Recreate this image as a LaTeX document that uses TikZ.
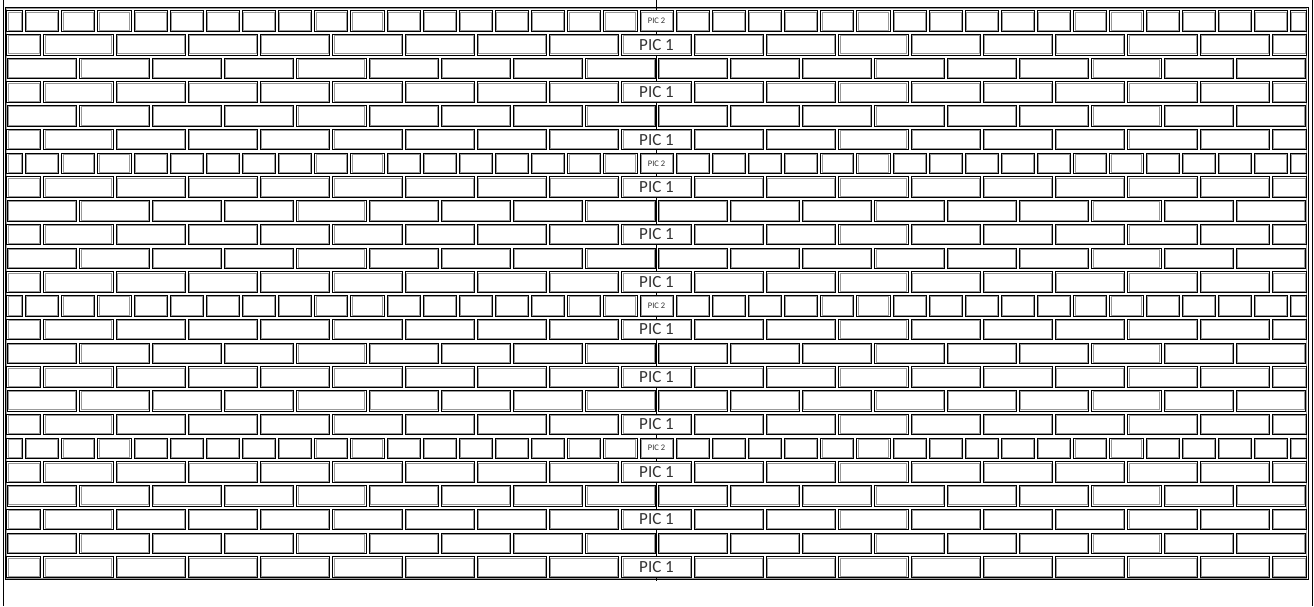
\documentclass[tikz,border=0pt]{standalone}
\usepackage{fontspec}
\newfontfamily\picfont{Carlito}
\def\bxO{6}
\def\bW{1301}
\def\bp{72.278}
\def\byO{9}
\def\bq{23.74}
\def\bg{3}
\def\bgv{3.2}
\tikzset{
  brickout/.style={draw=black,line width=0.75pt,fill=white},
  brickin/.style={draw=black!40,line width=0.6pt},
  wallline/.style={draw=black,line width=0.8pt},
  picone/.style={font=\picfont\fontsize{17}{17}\selectfont,text=black!80,inner sep=0pt},
  pictwo/.style={font=\picfont\fontsize{8.5}{8.5}\selectfont,text=black!80,inner sep=0pt}
}
\newcommand\mybrick[4]{%
  \draw[brickout] (#1,#2) rectangle (#3,#4);
  \draw[brickin] ({#1+1.2},{#2+1.2}) rectangle ({#3-1.2},{#4-1.2});
}
\begin{document}
\begin{tikzpicture}[x=1pt,y=-1pt]
\useasboundingbox (0,0) rectangle (1314,606);
% page border lines
\draw[wallline] (3,0) -- (3,606);
\draw[wallline] (1312.5,0) -- (1312.5,606);
% wall frame
\draw[wallline] (5,7) rectangle (1308,579.5);
\draw[draw=black!40,line width=0.6pt] (6.3,8.3) rectangle (1306.7,578.2);
% centre joint line
\coordinate (ctop) at ({\bxO+9*\bp},0);
\coordinate (cbot) at ({\bxO+9*\bp},581);
\draw[wallline] (ctop) -- (cbot);
% bricks
\foreach \r in {0,...,23}{
  \pgfmathsetmacro\yt{\byO+\r*\bq+\bgv/2}
  \pgfmathsetmacro\yb{\byO+(\r+1)*\bq-\bgv/2}
  \pgfmathsetmacro\ym{(\yt+\yb)/2}
  \pgfmathtruncatemacro\rsix{mod(\r,6)}
  \pgfmathtruncatemacro\rtwo{mod(\r,2)}
  \ifnum\rsix=0
    \foreach \j in {0,...,36}{
      \pgfmathsetmacro\xl{max(\bxO+0.8,\bxO+(\j-0.5)*\bp/2+\bg/2)}
      \pgfmathsetmacro\xr{min(\bxO+\bW-0.8,\bxO+(\j+0.5)*\bp/2-\bg/2)}
      \mybrick{\xl}{\yt}{\xr}{\yb}
    }
    \node[pictwo] (pictwo-\r) at ({\bxO+9*\bp},\ym) {PIC 2};
  \else
    \ifnum\rtwo=1
      \foreach \j in {0,...,18}{
        \pgfmathsetmacro\xl{max(\bxO+0.8,\bxO+(\j-0.5)*\bp+\bg/2)}
        \pgfmathsetmacro\xr{min(\bxO+\bW-0.8,\bxO+(\j+0.5)*\bp-\bg/2)}
        \mybrick{\xl}{\yt}{\xr}{\yb}
      }
      \node[picone] (picone-\r) at ({\bxO+9*\bp},\ym) {PIC 1};
    \else
      \foreach \j in {0,...,17}{
        \pgfmathsetmacro\xl{\bxO+\j*\bp+\bg/2}
        \pgfmathsetmacro\xr{\bxO+(\j+1)*\bp-\bg/2}
        \mybrick{\xl}{\yt}{\xr}{\yb}
      }
    \fi
  \fi
}
\end{tikzpicture}
\end{document}
